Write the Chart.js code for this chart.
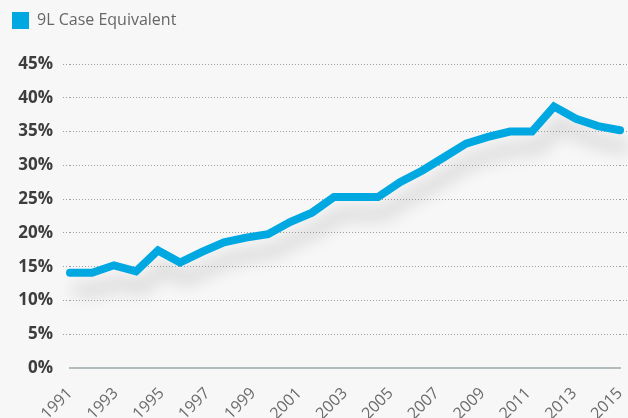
<!DOCTYPE html>
<html>
<head>
<meta charset="utf-8">
<script src="https://cdn.jsdelivr.net/npm/chart.js@4"></script>
<style>
  html, body { margin: 0; padding: 0; background: #f7f7f7; }
  #wrap { width: 628px; height: 418px; }
</style>
</head>
<body>
<div id="wrap"><canvas id="shareChart"></canvas></div>
<script>
// data
const years = [1991, 1992, 1993, 1994, 1995, 1996, 1997, 1998, 1999, 2000, 2001, 2002, 2003,
    2004, 2005, 2006, 2007, 2008, 2009, 2010, 2011, 2012, 2013, 2014, 2015, 2016];
const caseShare = [14.1, 14.1, 15.2, 14.3, 17.4, 15.6, 17.2, 18.6, 19.3, 19.8, 21.6, 23.0, 25.3,
    25.3, 25.3, 27.5, 29.2, 31.2, 33.2, 34.2, 35.0, 35.0, 38.7, 36.9, 35.8, 35.2];
const xTickLabels = ['1991', '1993', '1995', '1997', '1999', '2001', '2003', '2005', '2007',
    '2009', '2011', '2013', '2015'];
const yTicks = [0, 5, 10, 15, 20, 25, 30, 35, 40, 45];
const seriesName = '9L Case Equivalent';

const blue = '#00a8e1';
const dotGrey = '#a0a0a0';

// soft drop shadow under the line
const lineShadow = {
    id: 'lineShadow',
    beforeDatasetDraw(chart) {
        const c = chart.ctx;
        c.save();
        c.shadowColor = 'rgba(0, 0, 0, 0.2)';
        c.shadowBlur = 18;
        c.shadowOffsetX = 6;
        c.shadowOffsetY = 17;
    },
    afterDatasetDraw(chart) {
        chart.ctx.restore();
    }
};

// extra room under the legend
const legendGap = {
    id: 'legendGap',
    beforeInit(chart) {
        const fit = chart.legend.fit;
        chart.legend.fit = function() {
            fit.call(this);
            this.height += 25;
        };
    }
};

const gridColor = c => c.tick.value === 0 ? 'transparent' : dotGrey;

const ctx = document.getElementById('shareChart');
new Chart(ctx, {
    type: 'line',
    data: {
        datasets: [{
            label: seriesName,
            data: years.map((yr, i) => ({ x: yr, y: caseShare[i] })),
            borderColor: blue,
            backgroundColor: blue,
            borderWidth: 8,
            borderCapStyle: 'round',
            pointRadius: 0,
            tension: 0,
            clip: false,
            xAxisID: 'yr',
            yAxisID: 'y'
        }]
    },
    options: {
        responsive: true,
        maintainAspectRatio: false,
        animation: false,
        plugins: {
            tooltip: { enabled: false },
            legend: {
                align: 'start',
                labels: {
                    boxWidth: 17,
                    boxHeight: 17,
                    padding: 12,
                    color: '#666',
                    font: { family: 'Open Sans', size: 16 },
                    generateLabels: chart => Chart.defaults.plugins.legend.labels.generateLabels(chart)
                        .map(l => ({ ...l, lineWidth: 0 }))
                }
            }
        },
        scales: {
            yr: {
                type: 'linear',
                position: 'bottom',
                display: false,
                min: years[0],
                max: years[years.length - 1]
            },
            x: {
                type: 'category',
                position: 'bottom',
                labels: xTickLabels,
                offset: false,
                grid: { display: false },
                border: { display: true, color: '#b3bbbf', width: 2 },
                ticks: {
                    autoSkip: false,
                    maxRotation: 45,
                    minRotation: 45,
                    padding: 8,
                    color: '#6b6b6b',
                    font: { family: 'Open Sans', size: 16 }
                },
                afterFit: s => {
                    s.height = 50;
                    s.paddingRight = 0;
                }
            },
            y: {
                min: 0,
                max: 45,
                afterBuildTicks: s => { s.ticks = yTicks.map(v => ({ value: v })); },
                border: { display: false, dash: [1, 2] },
                grid: {
                    color: gridColor,
                    tickColor: gridColor,
                    tickBorderDash: [1, 2],
                    tickLength: 7,
                    lineWidth: 1
                },
                ticks: {
                    padding: 10,
                    color: '#3d3d3d',
                    font: { family: 'Open Sans', size: 17, weight: 'bold' },
                    callback: v => v + '%'
                },
                afterFit: s => { s.width = 70; }
            },
            // only carries the dotted lines out to the right edge
            yRight: {
                position: 'right',
                min: 0,
                max: 45,
                afterBuildTicks: s => { s.ticks = yTicks.map(v => ({ value: v })); },
                border: { display: false },
                grid: {
                    drawOnChartArea: false,
                    tickColor: gridColor,
                    tickBorderDash: [1, 2],
                    tickLength: 8
                },
                ticks: { display: false, padding: 0 },
                afterFit: s => { s.width = 8; }
            }
        }
    },
    plugins: [lineShadow, legendGap]
});
</script>
</body>
</html>
